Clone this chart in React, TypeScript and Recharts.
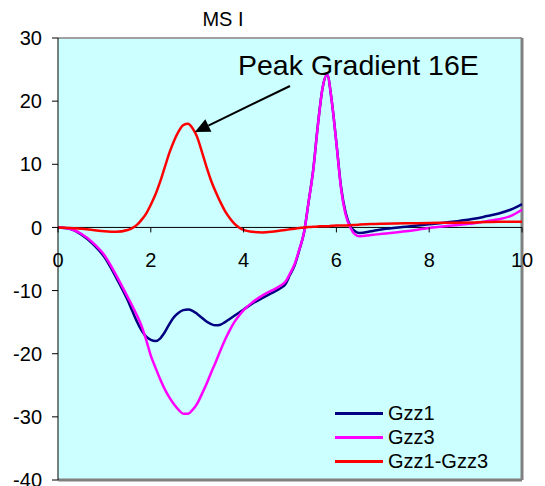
import React from "react";
import {
  LineChart,
  Line,
  XAxis,
  YAxis,
  ReferenceArea,
  ReferenceLine,
  ReferenceDot,
} from "recharts";

const FONT = '"Liberation Sans", Arial, sans-serif';

const xValues = [
  0, 0.25, 0.5, 0.75, 1, 1.25, 1.5, 1.6, 1.7, 1.8, 1.9, 2.0, 2.1, 2.2, 2.3, 2.4, 2.5, 2.6, 2.7, 2.8,
  2.9, 3.0, 3.1, 3.2, 3.3, 3.4, 3.5, 3.6, 3.7, 3.8, 3.9, 4.0, 4.2, 4.4, 4.6, 4.8, 4.9, 5.0, 5.1, 5.2,
  5.3, 5.4, 5.5, 5.6, 5.7, 5.8, 5.9, 6.0, 6.1, 6.2, 6.3, 6.4, 6.5, 6.75, 7, 7.5, 8, 8.5, 9, 9.25,
  9.5, 9.75, 10,
];

const gzz1 = [
  0, -0.2, -1.1, -2.6, -4.7, -7.9, -11.5, -13.2, -14.9, -16.3, -17.3, -17.8, -18.0, -17.6, -16.6,
  -15.3, -14.2, -13.5, -13.1, -13.0, -13.2, -13.7, -14.3, -14.9, -15.3, -15.5, -15.4, -15.0, -14.5,
  -14.0, -13.5, -13.0, -12.0, -11.2, -10.4, -9.6, -9.0, -7.5, -6.0, -3.6, -0.9, 4.0, 9.1, 16.2,
  22.0, 24.2, 20.0, 13.4, 6.4, 2.3, 0.2, -0.6, -0.9, -0.6, -0.3, 0.1, 0.5, 0.9, 1.4, 1.8, 2.2, 2.8,
  3.7,
];

const gzz3 = [
  0, -0.2, -1.0, -2.4, -4.4, -7.5, -11.0, -12.4, -13.9, -15.6, -17.8, -20.3, -22.2, -24.0, -25.6,
  -26.9, -28.0, -28.9, -29.5, -29.5, -28.9, -27.9, -26.4, -24.8, -23.0, -21.3, -19.5, -17.8, -16.3,
  -15.0, -14.0, -13.1, -11.8, -10.8, -10.0, -9.2, -8.6, -7.3, -5.8, -3.5, -0.9, 4.0, 9.0, 16.1,
  22.0, 24.2, 20.0, 13.3, 6.2, 2.0, 0.0, -1.1, -1.4, -1.2, -1.0, -0.6, -0.1, 0.3, 0.7, 1.0, 1.3,
  1.8, 2.8,
];

const gzzDiff = [
  0, -0.1, -0.2, -0.4, -0.6, -0.7, -0.4, -0.1, 0.4, 1.2, 2.2, 3.6, 5.2, 7.2, 9.5, 11.8, 13.7, 15.2,
  16.2, 16.4, 15.7, 14.3, 12.0, 9.6, 7.4, 5.6, 4.0, 2.6, 1.5, 0.6, 0.0, -0.4, -0.7, -0.8, -0.7,
  -0.5, -0.4, -0.3, -0.2, -0.1, 0.0, 0.05, 0.1, 0.15, 0.2, 0.2, 0.25, 0.3, 0.3, 0.3, 0.35, 0.4,
  0.45, 0.55, 0.6, 0.65, 0.7, 0.75, 0.8, 0.85, 0.9, 0.9, 0.9,
];

const yTicks = [-40, -30, -20, -10, 0, 10, 20, 30];
const xTicks = [0, 2, 4, 6, 8, 10];

const seriesNames = ["Gzz1", "Gzz3", "Gzz1-Gzz3"];
const seriesColors = ["#000080", "#FF00FF", "#FF0000"];

const titleText = "MS I";
const annotationText = "Peak Gradient 16E";
const arrowFrom = { x: 5.0, y: 22.4 };
const arrowTo = { x: 2.95, y: 15.1 };

const data = xValues.map((x, i) => ({
  x,
  Gzz1: gzz1[i],
  Gzz3: gzz3[i],
  "Gzz1-Gzz3": gzzDiff[i],
}));

const XTickDot = (value: number) => (p: any) => {
  const cx = p.cx;
  const cy = p.cy;
  return (
    <g>
      <line x1={cx} y1={cy} x2={cx} y2={cy + 5} stroke="#000" strokeWidth={1} />
      <text
        x={cx}
        y={cy + 40}
        textAnchor="middle"
        fontFamily={FONT}
        fontSize={20}
        fill="#000"
      >
        {value}
      </text>
    </g>
  );
};

const ArrowShape = (p: any) => {
  const { x1, y1, x2, y2 } = p;
  const dx = x2 - x1;
  const dy = y2 - y1;
  const len = Math.sqrt(dx * dx + dy * dy) || 1;
  const ux = dx / len;
  const uy = dy / len;
  const headLen = 15;
  const headW = 7;
  const bx = x2 - ux * headLen;
  const by = y2 - uy * headLen;
  const px = -uy;
  const py = ux;
  return (
    <g>
      <line x1={x1} y1={y1} x2={bx} y2={by} stroke="#000" strokeWidth={2} />
      <polygon
        points={`${x2},${y2} ${bx + px * headW},${by + py * headW} ${bx - px * headW},${by - py * headW}`}
        fill="#000"
      />
      <text x={x1 - 52} y={y1 - 11} fontFamily={FONT} fontSize={28.5} fill="#000">
        {annotationText}
      </text>
    </g>
  );
};

const LegendBox = () => (
  <div
    style={{
      position: "absolute",
      left: 335,
      top: 401,
      fontFamily: FONT,
      fontSize: 20,
      color: "#000",
      lineHeight: "24px",
    }}
  >
    {seriesNames.map((n, i) => (
      <div key={n} style={{ display: "flex", alignItems: "center", height: 24 }}>
        <span
          style={{
            display: "inline-block",
            width: 48,
            height: 3,
            background: seriesColors[i],
            marginRight: 5,
          }}
        />
        <span>{n}</span>
      </div>
    ))}
  </div>
);

export default function App() {
  return (
    <div style={{ position: "absolute", left: 0, top: 0, width: 545, height: 486, background: "#fff" }}>
      <LineChart
        width={545}
        height={486}
        data={data}
        margin={{ top: 38, right: 23, bottom: 6, left: 0 }}
      >
        <XAxis type="number" dataKey="x" domain={[0, 10]} ticks={xTicks} hide />
        <YAxis
          type="number"
          domain={[-40, 30]}
          ticks={yTicks}
          interval={0}
          width={58}
          axisLine={{ stroke: "#000", strokeWidth: 1 }}
          tickLine={{ stroke: "#000", strokeWidth: 1 }}
          tickSize={6}
          tickMargin={10}
          tick={{ fill: "#000", fontSize: 20, fontFamily: FONT }}
        />
        <ReferenceArea
          x1={0}
          x2={10}
          y1={-40}
          y2={30}
          fill="#CCFFFF"
          fillOpacity={1}
          stroke="none"
        />
        <ReferenceLine y={30} stroke="#A0A0A0" strokeWidth={2} />
        <ReferenceLine x={10} stroke="#808080" strokeWidth={3} />
        <ReferenceLine y={-40} stroke="#808080" strokeWidth={3} />
        <ReferenceLine y={0} stroke="#000" strokeWidth={1} />
        {xTicks.map((t) => (
          <ReferenceDot key={t} x={t} y={0} r={0} shape={XTickDot(t)} ifOverflow="visible" />
        ))}
        {seriesNames.map((n, i) => (
          <Line
            key={n}
            type="monotone"
            dataKey={n}
            stroke={seriesColors[i]}
            strokeWidth={2.5}
            dot={false}
            activeDot={false}
            isAnimationActive={false}
          />
        ))}
        <ReferenceLine
          segment={[arrowFrom, arrowTo]}
          ifOverflow="visible"
          shape={ArrowShape}
        />
      </LineChart>
      <LegendBox />
      <svg
        width={545}
        height={486}
        style={{ position: "absolute", left: 0, top: 0, pointerEvents: "none" }}
      >
        <text x={223} y={26} textAnchor="middle" fontFamily={FONT} fontSize={20} fill="#000">
          {titleText}
        </text>
      </svg>
    </div>
  );
}
